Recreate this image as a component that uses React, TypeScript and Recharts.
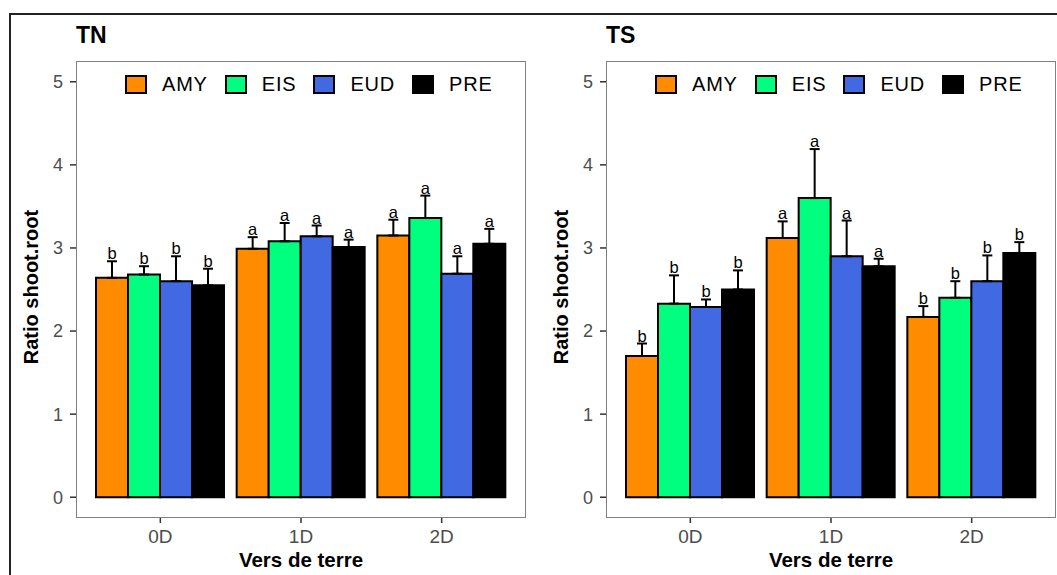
import React from 'react';
import { Bar, BarChart, ErrorBar, LabelList, Legend, XAxis, YAxis } from 'recharts';

const categories = ['0D', '1D', '2D'];
const seriesNames = ['AMY', 'EIS', 'EUD', 'PRE'];
const seriesColors = ['#FF8C00', '#00FF7F', '#4169E1', '#000000'];
const yTicks = [0, 1, 2, 3, 4, 5];

// TN panel
const tnAmy = [2.64, 2.99, 3.15];
const tnEis = [2.68, 3.08, 3.36];
const tnEud = [2.6, 3.14, 2.69];
const tnPre = [2.55, 3.01, 3.05];
const tnAmyErr = [0.2, 0.14, 0.19];
const tnEisErr = [0.1, 0.22, 0.27];
const tnEudErr = [0.3, 0.13, 0.21];
const tnPreErr = [0.2, 0.09, 0.18];
const tnLetters = ['b', 'a', 'a'];

// TS panel
const tsAmy = [1.7, 3.12, 2.17];
const tsEis = [2.33, 3.6, 2.4];
const tsEud = [2.29, 2.9, 2.6];
const tsPre = [2.5, 2.78, 2.94];
const tsAmyErr = [0.15, 0.2, 0.13];
const tsEisErr = [0.34, 0.59, 0.2];
const tsEudErr = [0.09, 0.43, 0.31];
const tsPreErr = [0.23, 0.09, 0.13];
const tsLetters = ['b', 'a', 'b'];

const FONT = '"Liberation Sans", Arial, sans-serif';

const buildRows = (values: number[][], errors: number[][]) =>
  categories.map((cat, i) => {
    const row: any = { cat };
    seriesNames.forEach((name, s) => {
      row[name] = values[s][i];
      row[name + '_err'] = [0, errors[s][i]];
    });
    return row;
  });

// letter sits just above the error bar cap; pixel scale taken from the bar itself
const makeLetter = (errs: number[], letters: string[]) => (props: any) => {
  const vb = props.viewBox && props.viewBox.width !== undefined ? props.viewBox : props;
  const { x, y, width, height } = vb;
  const value = Number(props.value);
  const idx = props.index ?? 0;
  if (!value || height == null) return null;
  const perUnit = height / value;
  const top = y - errs[idx] * perUnit;
  return (
    <text x={x + width / 2} y={top - 2} textAnchor="middle" fontSize={16.5} fill="#000" fontFamily={FONT}>
      {letters[idx]}
    </text>
  );
};

const renderLegend = (props: any) => {
  const items =
    props.payload && props.payload.length
      ? props.payload.map((p: any) => ({ name: p.value, color: p.color }))
      : seriesNames.map((n, i) => ({ name: n, color: seriesColors[i] }));
  return (
    <div
      style={{
        display: 'flex',
        alignItems: 'center',
        fontFamily: FONT,
        fontSize: 20,
        letterSpacing: 0.8,
        color: '#000',
      }}
    >
      {items.map((it: any) => (
        <div key={it.name} style={{ display: 'flex', alignItems: 'center', marginRight: 17 }}>
          <span
            style={{
              display: 'inline-block',
              width: 22,
              height: 19,
              background: it.color,
              border: '2px solid #000',
              boxSizing: 'border-box',
              marginRight: 15,
            }}
          />
          <span>{it.name}</span>
        </div>
      ))}
    </div>
  );
};

type PanelProps = {
  title: string;
  left: number;
  values: number[][];
  errors: number[][];
  letters: string[];
};

const Panel: React.FC<PanelProps> = ({ title, left, values, errors, letters }) => {
  const rows = buildRows(values, errors);
  return (
    <>
      <div
        style={{
          position: 'absolute',
          left: left + 76,
          top: 24,
          fontFamily: FONT,
          fontWeight: 'bold',
          fontSize: 23,
          lineHeight: '23px',
          color: '#000',
        }}
      >
        {title}
      </div>
      <div
        style={{
          position: 'absolute',
          left: left + 31,
          top: 287,
          transform: 'translate(-50%, -50%) rotate(-90deg)',
          whiteSpace: 'nowrap',
          fontFamily: FONT,
          fontWeight: 'bold',
          fontSize: 20,
          color: '#000',
        }}
      >
        Ratio shoot.root
      </div>
      <div style={{ position: 'absolute', left, top: 0 }}>
        <BarChart
          width={540}
          height={575}
          data={rows}
          margin={{ top: 61, right: 14, bottom: 0, left: 0 }}
          barGap={0}
        >
          <XAxis
            dataKey="cat"
            height={57}
            padding={{ left: 14, right: 14 }}
            axisLine={false}
            tickLine={{ stroke: '#333', strokeWidth: 1.5 }}
            tickSize={5}
            tickMargin={7}
            tick={{ fill: '#4d4d4d', fontSize: 19, fontFamily: FONT }}
            label={{
              value: 'Vers de terre',
              position: 'insideBottom',
              offset: 8,
              fill: '#000',
              fontSize: 20.5,
              fontWeight: 'bold',
              fontFamily: FONT,
            }}
          />
          <YAxis
            type="number"
            width={76}
            domain={[-0.25, 5.25]}
            ticks={yTicks}
            allowDataOverflow
            interval={0}
            axisLine={false}
            tickLine={{ stroke: '#333', strokeWidth: 1.5 }}
            tickSize={6}
            tickMargin={7}
            tick={{ fill: '#4d4d4d', fontSize: 18, fontFamily: FONT }}
          />
          <Legend
            layout="horizontal"
            verticalAlign="middle"
            align="center"
            content={renderLegend}
            wrapperStyle={{ top: 73, left: 125, width: 'auto' }}
          />
          {seriesNames.map((name, s) => (
            <Bar
              key={name}
              dataKey={name}
              name={name}
              fill={seriesColors[s]}
              stroke="#000"
              strokeWidth={2}
              barSize={32}
              isAnimationActive={false}
            >
              <ErrorBar dataKey={name + '_err'} width={5} stroke="#000" strokeWidth={2} direction="y" />
              <LabelList dataKey={name} content={makeLetter(errors[s], letters)} />
            </Bar>
          ))}
        </BarChart>
      </div>
      <div
        style={{
          position: 'absolute',
          left: left + 76,
          top: 61,
          width: 450,
          height: 457,
          border: '1px solid #808080',
          boxSizing: 'border-box',
          pointerEvents: 'none',
        }}
      />
    </>
  );
};

const App: React.FC = () => {
  return (
    <div
      style={{
        position: 'absolute',
        left: 0,
        top: 0,
        width: 1057,
        height: 575,
        overflow: 'hidden',
        background: '#fff',
      }}
    >
      <div
        style={{
          position: 'absolute',
          left: 9,
          top: 13,
          width: 1070,
          height: 620,
          borderLeft: '2px solid #222',
          borderTop: '2px solid #222',
        }}
      />
      <Panel
        title="TN"
        left={0}
        values={[tnAmy, tnEis, tnEud, tnPre]}
        errors={[tnAmyErr, tnEisErr, tnEudErr, tnPreErr]}
        letters={tnLetters}
      />
      <Panel
        title="TS"
        left={530}
        values={[tsAmy, tsEis, tsEud, tsPre]}
        errors={[tsAmyErr, tsEisErr, tsEudErr, tsPreErr]}
        letters={tsLetters}
      />
    </div>
  );
};

export default App;
